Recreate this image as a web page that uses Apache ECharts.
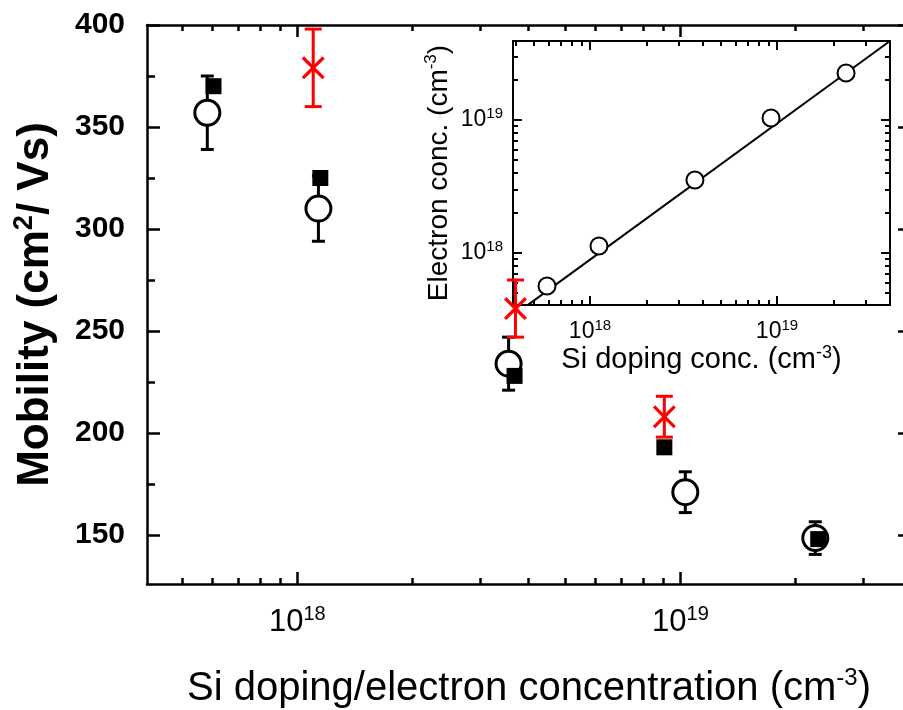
<!DOCTYPE html>
<html>
<head>
<meta charset="utf-8">
<script src="https://cdn.jsdelivr.net/npm/echarts@6/dist/echarts.min.js"></script>
<style>
  html, body { margin: 0; padding: 0; background: #fff; }
  #main { width: 903px; height: 710px; }
</style>
</head>
<body>
<div id="main"></div>
<script>
// main plot: mobility (cm2/Vs) vs Si doping / electron concentration
const circX = [5.82e17, 1.135e18, 3.56e18, 1.03e19, 2.25e19];
const circY = [357, 310, 234, 171, 148.5];
const circErr = [18, 16, 13, 10, 8];
const sqX = [6.04e17, 1.148e18, 3.69e18, 9.08e18, 2.29e19];
const sqY = [370, 325, 228, 193, 148];
const crossX = [1.10e18, 3.71e18, 9.08e18];
const crossY = [379, 261, 208];
const crossErr = [19, 14, 10];

// inset: electron conc. vs Si doping conc.
const insetX = [5.89e17, 1.117e18, 3.64e18, 9.29e18, 2.34e19];
const insetY = [5.65e17, 1.13e18, 3.54e18, 1.035e19, 2.26e19];
const fitX = [4.66e17, 4.02e19];
const fitY = [4.07e17, 3.93e19];

// ticks
const mainXMajor = [1e18, 1e19];
const mainXMinor = [5e17, 6e17, 7e17, 8e17, 9e17, 2e18, 3e18, 4e18, 5e18, 6e18, 7e18, 8e18, 9e18, 2e19, 3e19];
const mainYMajor = [150, 200, 250, 300, 350, 400];
const mainYMinor = [175, 225, 275, 325, 375];
const insetMajor = [1e18, 1e19];
const insetXMinor = [4e17, 5e17, 6e17, 7e17, 8e17, 9e17, 2e18, 3e18, 4e18, 5e18, 6e18, 7e18, 8e18, 9e18, 2e19, 3e19];
const insetYMinor = [5e17, 6e17, 7e17, 8e17, 9e17, 2e18, 3e18, 4e18, 5e18, 6e18, 7e18, 8e18, 9e18, 2e19, 3e19];

const FONT = 'Liberation Sans, Arial, sans-serif';

function pow10(v) {
    return '{b|10}{s|' + Math.round(Math.log10(v)) + '}';
}

// one axis = line + ticks (+ labels); minor ticks go on a second, bare axis
function makeAxis(grid, pos, type, min, max, ticks, tickLen, lineW, extra) {
    const a = {
        gridIndex: grid,
        type: type,
        position: pos,
        min: min,
        max: max,
        axisLine: {show: lineW > 0, onZero: false, lineStyle: {color: '#000', width: lineW}},
        axisTick: {show: true, inside: true, length: tickLen, customValues: ticks,
            lineStyle: {color: '#000', width: grid === 0 ? 2.5 : 2}},
        axisLabel: {show: false},
        splitLine: {show: false},
        minorTick: {show: false},
        minorSplitLine: {show: false}
    };
    return Object.assign(a, extra || {});
}

const mainXLabel = {
    axisLabel: {
        show: true, customValues: mainXMajor, margin: 20, formatter: pow10,
        rich: {
            b: {fontSize: 31, fontFamily: FONT, color: '#000', lineHeight: 36},
            s: {fontSize: 20, fontFamily: FONT, color: '#000', verticalAlign: 'top', lineHeight: 20}
        }
    },
    name: '{a|Si doping/electron concentration (cm}{s|-3}{a|)}',
    nameLocation: 'middle',
    nameGap: 82,
    nameTextStyle: {
        rich: {
            a: {fontSize: 40, fontFamily: FONT, color: '#000', lineHeight: 46},
            s: {fontSize: 24, fontFamily: FONT, color: '#000', verticalAlign: 'top', lineHeight: 24}
        }
    }
};

const mainYLabel = {
    axisLabel: {
        show: true, customValues: mainYMajor, margin: 22,
        fontSize: 30, fontWeight: 'bold', fontFamily: FONT, color: '#000'
    },
    name: '{a|Mobility (cm}{s|2}{a|/ Vs)}',
    nameLocation: 'middle',
    nameGap: 86,
    nameRotate: 90,
    nameTextStyle: {
        rich: {
            a: {fontSize: 44, fontWeight: 'bold', fontFamily: FONT, color: '#000', lineHeight: 50},
            s: {fontSize: 27, fontWeight: 'bold', fontFamily: FONT, color: '#000', verticalAlign: 'top', lineHeight: 26}
        }
    }
};

const insetXLabel = {
    axisLabel: {
        show: true, customValues: insetMajor, margin: 13, formatter: pow10,
        rich: {
            b: {fontSize: 23, fontFamily: FONT, color: '#000', lineHeight: 28},
            s: {fontSize: 15, fontFamily: FONT, color: '#000', verticalAlign: 'top', lineHeight: 15}
        }
    },
    name: '{a|Si doping conc. (cm}{s|-3}{a|)}',
    nameLocation: 'middle',
    nameGap: 37,
    nameTextStyle: {
        rich: {
            a: {fontSize: 29, fontFamily: FONT, color: '#000', lineHeight: 32},
            s: {fontSize: 18, fontFamily: FONT, color: '#000', verticalAlign: 'top', lineHeight: 17}
        }
    }
};

const insetYLabel = {
    axisLabel: {
        show: true, customValues: insetMajor, margin: 10, formatter: pow10,
        rich: {
            b: {fontSize: 23, fontFamily: FONT, color: '#000', lineHeight: 28},
            s: {fontSize: 15, fontFamily: FONT, color: '#000', verticalAlign: 'top', lineHeight: 15}
        }
    },
    name: '{a|Electron conc. (cm}{s|-3}{a|)}',
    nameLocation: 'middle',
    nameGap: 58,
    nameRotate: 90,
    nameTextStyle: {
        rich: {
            a: {fontSize: 28, fontFamily: FONT, color: '#000', lineHeight: 32},
            s: {fontSize: 17, fontFamily: FONT, color: '#000', verticalAlign: 'top', lineHeight: 17}
        }
    }
};

const MX = [4.05e17, 4e19], MY = [126, 400];
const IX = [3.875e17, 4.02e19], IY = [4.065e17, 3.93e19];

const xAxes = [
    makeAxis(0, 'bottom', 'log', MX[0], MX[1], mainXMajor, 12, 2.5, mainXLabel),
    makeAxis(0, 'bottom', 'log', MX[0], MX[1], mainXMinor, 6, 0),
    makeAxis(0, 'top', 'log', MX[0], MX[1], mainXMajor, 12, 2.5),
    makeAxis(0, 'top', 'log', MX[0], MX[1], mainXMinor, 6, 0),
    makeAxis(1, 'bottom', 'log', IX[0], IX[1], insetMajor, 9, 2, insetXLabel),
    makeAxis(1, 'bottom', 'log', IX[0], IX[1], insetXMinor, 5, 0),
    makeAxis(1, 'top', 'log', IX[0], IX[1], insetMajor, 9, 2),
    makeAxis(1, 'top', 'log', IX[0], IX[1], insetXMinor, 5, 0)
];
const yAxes = [
    makeAxis(0, 'left', 'value', MY[0], MY[1], mainYMajor, 13, 2.5, mainYLabel),
    makeAxis(0, 'left', 'value', MY[0], MY[1], mainYMinor, 8, 0),
    makeAxis(0, 'right', 'value', MY[0], MY[1], mainYMajor, 13, 2.5),
    makeAxis(0, 'right', 'value', MY[0], MY[1], mainYMinor, 8, 0),
    makeAxis(1, 'left', 'log', IY[0], IY[1], insetMajor, 9, 2, insetYLabel),
    makeAxis(1, 'left', 'log', IY[0], IY[1], insetYMinor, 5, 0),
    makeAxis(1, 'right', 'log', IY[0], IY[1], insetMajor, 9, 2),
    makeAxis(1, 'right', 'log', IY[0], IY[1], insetYMinor, 5, 0)
];

function errRender(capW, lineW) {
    return function (params, api) {
        const x = api.value(0);
        const top = api.coord([x, api.value(2)]);
        const bot = api.coord([x, api.value(1)]);
        const style = {stroke: api.visual('color'), lineWidth: lineW};
        return {
            type: 'group',
            children: [
                {type: 'line', shape: {x1: top[0], y1: top[1], x2: bot[0], y2: bot[1]}, style: style},
                {type: 'line', shape: {x1: top[0] - capW / 2, y1: top[1], x2: top[0] + capW / 2, y2: top[1]}, style: style},
                {type: 'line', shape: {x1: bot[0] - capW / 2, y1: bot[1], x2: bot[0] + capW / 2, y2: bot[1]}, style: style}
            ]
        };
    };
}

const CROSS = 'path://M0,1L1,0L5,4L9,0L10,1L6,5L10,9L9,10L5,6L1,10L0,9L4,5Z';

const option = {
    backgroundColor: '#fff',
    animation: false,
    grid: [
        {left: 147, top: 25, width: 764, height: 559, show: false,
            containLabel: false, outerBoundsMode: 'none'},
        {left: 513, top: 41, width: 377, height: 264, show: true, backgroundColor: '#fff', borderWidth: 0,
            containLabel: false, outerBoundsMode: 'none'}
    ],
    xAxis: xAxes,
    yAxis: yAxes,
    series: [
        {
            type: 'custom', xAxisIndex: 0, yAxisIndex: 0, z: 2,
            itemStyle: {color: '#000'},
            renderItem: errRender(13, 3),
            encode: {x: 0, y: [1, 2]},
            data: circX.map((x, i) => [x, circY[i] - circErr[i], circY[i] + circErr[i]])
        },
        {
            type: 'scatter', xAxisIndex: 0, yAxisIndex: 0, z: 3,
            symbol: 'circle', symbolSize: 25,
            itemStyle: {color: '#fff', borderColor: '#000', borderWidth: 3, opacity: 1},
            data: circX.map((x, i) => [x, circY[i]])
        },
        {
            type: 'scatter', xAxisIndex: 0, yAxisIndex: 0, z: 4,
            symbol: 'rect', symbolSize: 16,
            itemStyle: {color: '#000', opacity: 1},
            data: sqX.map((x, i) => [x, sqY[i]])
        },
        {
            type: 'custom', xAxisIndex: 0, yAxisIndex: 0, z: 5,
            itemStyle: {color: '#ff0000'},
            renderItem: errRender(17, 3),
            encode: {x: 0, y: [1, 2]},
            data: crossX.map((x, i) => [x, crossY[i] - crossErr[i], crossY[i] + crossErr[i]])
        },
        {
            type: 'scatter', xAxisIndex: 0, yAxisIndex: 0, z: 6,
            symbol: CROSS, symbolSize: 23,
            itemStyle: {color: '#ff0000', opacity: 1},
            data: crossX.map((x, i) => [x, crossY[i]])
        },
        {
            type: 'line', xAxisIndex: 4, yAxisIndex: 4, z: 3,
            symbol: 'none', clip: true,
            lineStyle: {color: '#000', width: 2},
            data: fitX.map((x, i) => [x, fitY[i]])
        },
        {
            type: 'scatter', xAxisIndex: 4, yAxisIndex: 4, z: 4,
            symbol: 'circle', symbolSize: 17,
            itemStyle: {color: '#fff', borderColor: '#000', borderWidth: 2, opacity: 1},
            data: insetX.map((x, i) => [x, insetY[i]])
        }
    ]
};

const myChart = echarts.init(document.getElementById('main'));
myChart.setOption(option);
</script>
</body>
</html>
